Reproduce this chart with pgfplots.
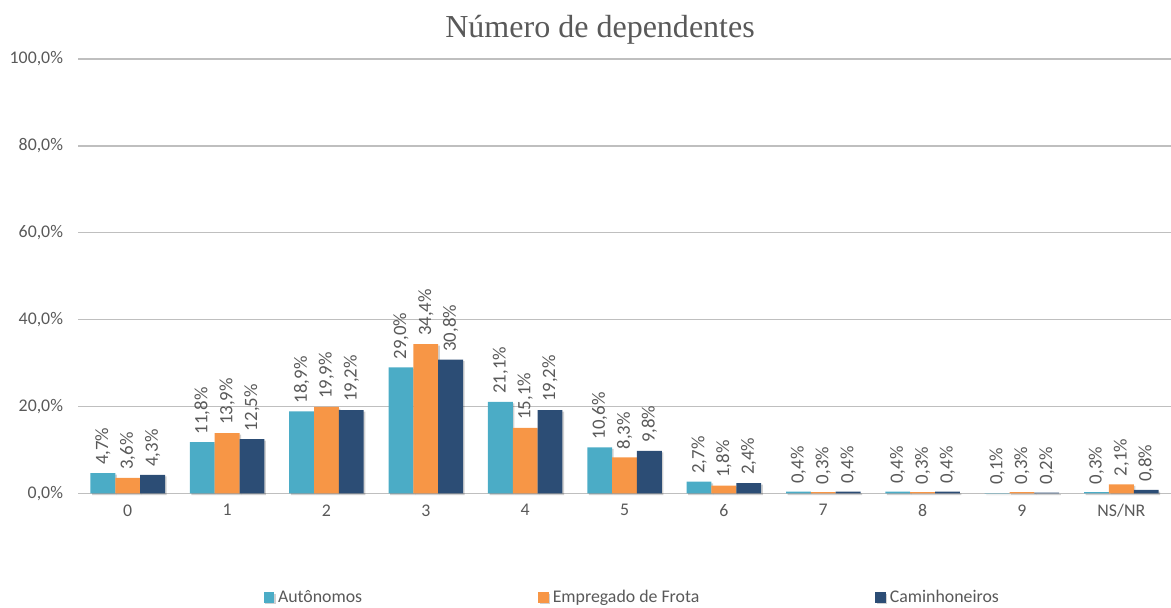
\documentclass[border=0pt]{standalone}
\usepackage{pgfplots}
\pgfplotsset{compat=1.18}
\usepackage{fontspec}
\setmainfont{Carlito}
\newfontfamily\titlefont{Liberation Serif}
\usetikzlibrary{calc}
\definecolor{aut}{HTML}{4BACC6}
\definecolor{emp}{HTML}{F79646}
\definecolor{cam}{HTML}{2C4D75}
\definecolor{txt}{HTML}{595959}
\definecolor{gridc}{HTML}{BFBFBF}

\begin{document}
\begin{tikzpicture}
\begin{axis}[
  name=ax,
  scale only axis,
  width=546pt, height=217pt,
  xmin=-0.5, xmax=10.5,
  ymin=0, ymax=100,
  ybar=0pt, bar width=0.25,
  xtick=data,
  xticklabels={0,1,2,3,4,5,6,7,8,9,NS/NR},
  ytick={0,20,40,60,80,100},
  yticklabel={\pgfmathprintnumber[fixed,fixed zerofill,precision=1,use comma]{\tick}\%},
  /pgf/number format/assume math mode=true,
  ymajorgrids,
  grid style={draw=gridc, line width=0.6pt},
  axis line style={draw=none},
  major tick length=0pt,
  tick label style={font=\fontsize{8.9}{10}\selectfont, text=txt},
  xticklabel style={yshift=-2pt},
  yticklabel style={xshift=-4pt},
  nodes near coords={\pgfmathprintnumber[fixed,fixed zerofill,precision=1,use comma]{\pgfplotspointmeta}\%},
  every node near coord/.append style={rotate=90, anchor=west, font=\fontsize{9.4}{10}\selectfont, text=txt, xshift=0.5pt},
  every axis plot/.append style={draw=none, preaction={fill=black, opacity=0.18, transform canvas={xshift=0.8pt, yshift=-0.8pt}}},
  legend style={at={(0.508,-0.24)}, anchor=center, draw=none, fill=none,
    legend columns=3, font=\fontsize{8.9}{10}\selectfont, text=txt,
    /tikz/every even column/.append style={column sep=86pt}},
  legend image code/.code={\fill[#1, draw=none] (0pt,-2.6pt) rectangle (5.2pt,2.6pt);},
  clip=false,
]
\addplot[fill=aut] coordinates {(0,4.7)(1,11.8)(2,18.9)(3,29.0)(4,21.1)(5,10.6)(6,2.7)(7,0.4)(8,0.4)(9,0.1)(10,0.3)};
\addlegendentry{Autônomos}
\addplot[fill=emp] coordinates {(0,3.6)(1,13.9)(2,19.9)(3,34.4)(4,15.1)(5,8.3)(6,1.8)(7,0.3)(8,0.3)(9,0.3)(10,2.1)};
\addlegendentry{Empregado de Frota}
\addplot[fill=cam] coordinates {(0,4.3)(1,12.5)(2,19.2)(3,30.8)(4,19.2)(5,9.8)(6,2.4)(7,0.4)(8,0.4)(9,0.2)(10,0.8)};
\addlegendentry{Caminhoneiros}
\end{axis}
\node[font=\titlefont\fontsize{16}{19}\selectfont, text=txt] at ($(ax.north west)!0.4776!(ax.north east)+(0,14.5pt)$) {Número de dependentes};
\pgfresetboundingbox
\path ($(ax.south west)+(-39pt,-57pt)$) rectangle ($(ax.north east)+(0pt,29.5pt)$);
\end{tikzpicture}
\end{document}
